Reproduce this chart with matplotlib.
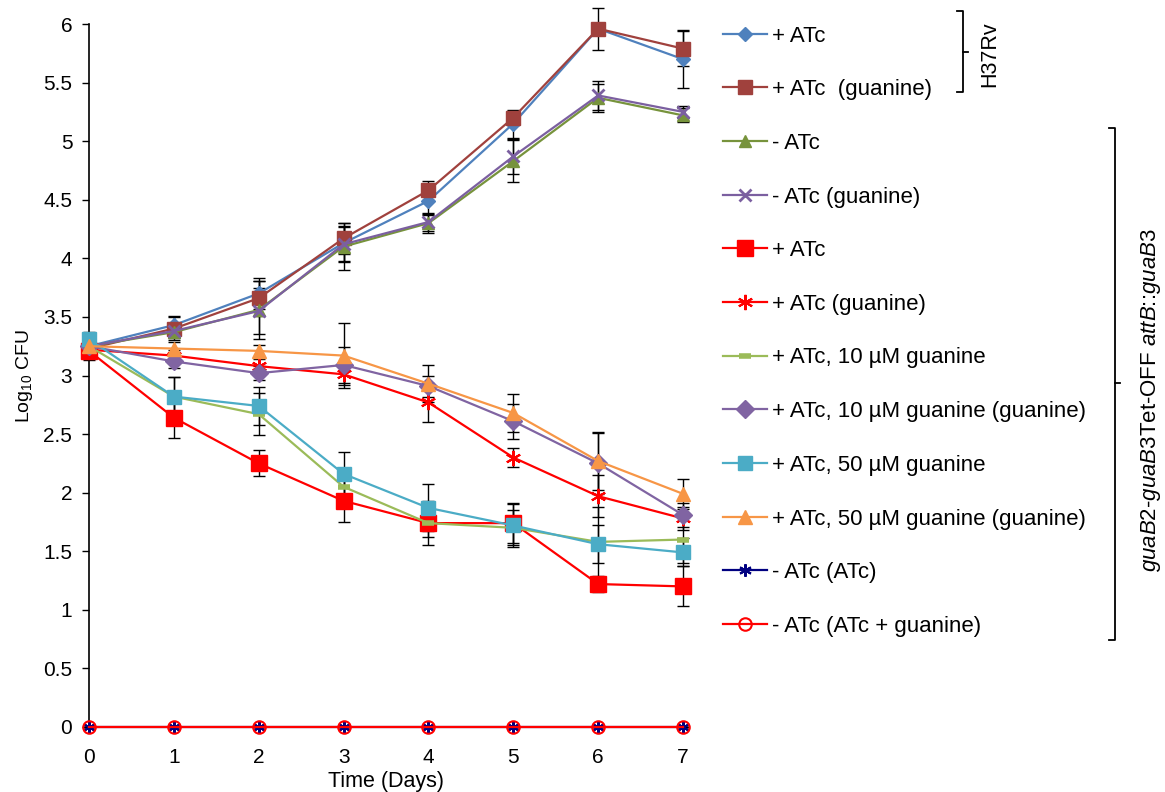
import matplotlib
matplotlib.use("Agg")
import matplotlib.pyplot as plt
from matplotlib.lines import Line2D

plt.rcParams['font.family'] = ['Liberation Sans', 'DejaVu Sans']
plt.rcParams['mathtext.fontset'] = 'custom'
plt.rcParams['mathtext.rm'] = 'Liberation Sans'
plt.rcParams['mathtext.it'] = 'Liberation Sans:italic'

# Time points (days)
days = [0, 1, 2, 3, 4, 5, 6, 7]
y_ticks = [0, 0.5, 1, 1.5, 2, 2.5, 3, 3.5, 4, 4.5, 5, 5.5, 6]
y_tick_labels = ["0", "0.5", "1", "1.5", "2", "2.5", "3", "3.5", "4", "4.5", "5", "5.5", "6"]

labels = [
    "+ ATc",
    "+ ATc  (guanine)",
    "- ATc",
    "- ATc (guanine)",
    "+ ATc",
    "+ ATc (guanine)",
    "+ ATc, 10 µM guanine",
    "+ ATc, 10 µM guanine (guanine)",
    "+ ATc, 50 µM guanine",
    "+ ATc, 50 µM guanine (guanine)",
    "- ATc (ATc)",
    "- ATc (ATc + guanine)",
]

# Log10 CFU, one list per series
h37_atc = [3.25, 3.43, 3.70, 4.13, 4.49, 5.15, 5.96, 5.70]
h37_atc_gua = [3.23, 3.40, 3.66, 4.17, 4.58, 5.20, 5.96, 5.79]
ko_noatc = [3.25, 3.37, 3.56, 4.10, 4.30, 4.83, 5.37, 5.22]
ko_noatc_gua = [3.25, 3.38, 3.55, 4.12, 4.31, 4.87, 5.39, 5.25]
ko_atc = [3.21, 2.64, 2.25, 1.93, 1.74, 1.74, 1.22, 1.20]
ko_atc_gua = [3.22, 3.17, 3.08, 3.01, 2.77, 2.30, 1.97, 1.78]
ko_atc_10 = [3.25, 2.82, 2.67, 2.05, 1.74, 1.70, 1.58, 1.60]
ko_atc_10_gua = [3.25, 3.12, 3.02, 3.09, 2.91, 2.61, 2.25, 1.81]
ko_atc_50 = [3.31, 2.82, 2.74, 2.16, 1.87, 1.72, 1.56, 1.49]
ko_atc_50_gua = [3.25, 3.23, 3.21, 3.17, 2.93, 2.68, 2.27, 1.99]
ko_noatc_atc = [0, 0, 0, 0, 0, 0, 0, 0]
ko_noatc_atc_gua = [0, 0, 0, 0, 0, 0, 0, 0]

# error bar half-lengths
err_h37_atc = [0.05, 0.08, 0.13, 0.15, 0.12, 0.12, 0.18, 0.25]
err_h37_atc_gua = [0.06, 0.10, 0.15, 0.13, 0.08, 0.06, 0.03, 0.15]
err_ko_noatc = [0.06, 0.05, 0.25, 0.20, 0.08, 0.18, 0.12, 0.06]
err_ko_noatc_gua = [0.06, 0.05, 0.20, 0.15, 0.08, 0.15, 0.12, 0.05]
err_ko_atc = [0.08, 0.17, 0.11, 0.18, 0.19, 0.17, 0.07, 0.17]
err_ko_atc_gua = [0.05, 0.05, 0.06, 0.09, 0.17, 0.08, 0.18, 0.10]
err_ko_atc_10 = [0.05, 0.17, 0.18, 0.10, 0.12, 0.15, 0.30, 0.20]
err_ko_atc_10_gua = [0.05, 0.06, 0.06, 0.15, 0.09, 0.15, 0.26, 0.10]
err_ko_atc_50 = [0.06, 0.17, 0.16, 0.19, 0.20, 0.18, 0.16, 0.12]
err_ko_atc_50_gua = [0.05, 0.06, 0.05, 0.28, 0.16, 0.16, 0.25, 0.13]
err_zero = [0, 0, 0, 0, 0, 0, 0, 0]

series = [
    (h37_atc, err_h37_atc, dict(color='#4F81BD', marker='D', ms=7)),
    (h37_atc_gua, err_h37_atc_gua, dict(color='#A0413D', marker='s', ms=10)),
    (ko_noatc, err_ko_noatc, dict(color='#77933C', marker='^', ms=9)),
    (ko_noatc_gua, err_ko_noatc_gua, dict(color='#7B5FA0', marker='x', ms=9, mew=2)),
    (ko_atc, err_ko_atc, dict(color='#FF0000', marker='s', ms=11)),
    (ko_atc_gua, err_ko_atc_gua, dict(color='#FF0000', marker=(6, 2, 0), ms=11, mew=1.5)),
    (ko_atc_10, err_ko_atc_10, dict(color='#9BBB59', marker='_', ms=9, mew=4)),
    (ko_atc_10_gua, err_ko_atc_10_gua, dict(color='#8064A2', marker='D', ms=9)),
    (ko_atc_50, err_ko_atc_50, dict(color='#4BACC6', marker='s', ms=10)),
    (ko_atc_50_gua, err_ko_atc_50_gua, dict(color='#F79646', marker='^', ms=10)),
    (ko_noatc_atc, err_zero, dict(color='#000080', marker=(6, 2, 0), ms=9, mew=1.5)),
    (ko_noatc_atc_gua, err_zero, dict(color='#FF0000', marker='o', ms=9, mfc='none', mew=1.5)),
]

fig = plt.figure(figsize=(11.65, 7.92), dpi=100)
W, H = 1165, 792
ax = fig.add_axes([89 / W, 1 - 727 / H, (683 - 89) / W, (727 - 24) / H])

handles = []
for i, (vals, err, st) in enumerate(series):
    ax.errorbar(days, vals, yerr=err, fmt='none', ecolor='black', elinewidth=1,
                capsize=4, capthick=1, zorder=2, clip_on=False)
    ln, = ax.plot(days, vals, lw=1.6, zorder=3 + i * 0.01, clip_on=False, **st)
    handles.append(ln)

ax.set_xlim(0, 7)
ax.set_ylim(0, 6)
ax.set_xticks(days)
ax.set_yticks(y_ticks)
ax.set_yticklabels(y_tick_labels)
ax.tick_params(axis='x', length=0, labelsize=15, pad=15)
ax.tick_params(axis='y', direction='out', length=5, width=1, labelsize=15, pad=7)
for s in ['top', 'right', 'bottom']:
    ax.spines[s].set_visible(False)
ax.spines['left'].set_linewidth(1.2)
ax.set_xlabel("Time (Days)", fontsize=15.5, labelpad=3)
ax.set_ylabel("Log$_{10}$ CFU", fontsize=14, labelpad=6)

fig.legend(handles, labels, loc='upper left', bbox_to_anchor=(723 / W, 1 - 25.5 / H),
           frameon=False, fontsize=16, labelspacing=1.47, handlelength=2.0,
           handletextpad=0.22, borderaxespad=0, borderpad=0)


def px(x, y):
    return x / W, 1 - y / H


def bracket(x, y0, y1, ym, tip=6, mtip=5):
    pts = [(x - tip, y0), (x, y0), (x, y1), (x - tip, y1)]
    xs, ys = zip(*[px(a, b) for a, b in pts])
    fig.add_artist(Line2D(xs, ys, transform=fig.transFigure, color='black', lw=1.3))
    xs, ys = zip(*[px(a, b) for a, b in [(x, ym), (x + mtip, ym)]])
    fig.add_artist(Line2D(xs, ys, transform=fig.transFigure, color='black', lw=1.3))


bracket(963, 11, 92, 52)
bracket(1115, 128, 640, 383)
fig.text(*px(990, 54), "H37Rv", rotation=90, ha='center', va='center', fontsize=15.5)
fig.text(*px(1151, 400), r"$\it{guaB2}$-$\it{guaB3}$Tet-OFF $\it{attB}$::$\it{guaB3}$",
         rotation=90, ha='center', va='center', fontsize=16)

fig.savefig("out.png", dpi=100)
